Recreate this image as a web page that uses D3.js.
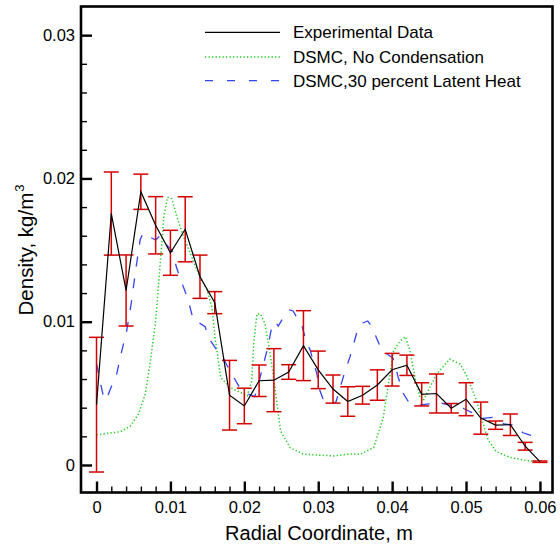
<!DOCTYPE html>
<html>
<head>
<meta charset="utf-8">
<script src="https://cdn.jsdelivr.net/npm/d3@7"></script>
<style>
  html, body { margin: 0; padding: 0; background: #fff; }
  svg { display: block; font-family: "Liberation Sans", Arial, sans-serif; }
</style>
</head>
<body>
<svg id="chart" width="560" height="545"></svg>
<script>
// ---- Data ----
const expX = [0,0.002,0.004,0.006,0.008,0.010,0.012,0.014,0.016,0.018,0.020,0.022,0.024,0.026,0.028,0.030,0.032,0.034,0.036,0.038,0.040,0.042,0.044,0.046,0.048,0.050,0.052,0.054,0.056,0.058,0.060];
const expY = [0.00421,0.01755,0.01218,0.01907,0.01673,0.01481,0.01645,0.01314,0.01133,0.00487,0.00412,0.00588,0.00592,0.00649,0.00833,0.00664,0.00530,0.00443,0.00487,0.00558,0.00665,0.00696,0.00493,0.00499,0.00396,0.00459,0.00327,0.00278,0.00281,0.00131,0.00023];
const expErr = [0.0047,0.0029,0.00248,0.00123,0.0020,0.00157,0.00227,0.00151,0.00077,0.00243,0.00124,0.0011,0.0022,0.00051,0.00244,0.00131,0.00098,0.00103,0.00062,0.00106,0.00114,0.00071,0.00081,0.00136,0.00033,0.00115,0.00112,0.00029,0.00075,0.00027,0.00005];

const noCondX = [0,0.0033,0.0046,0.0057,0.0066,0.0073,0.0080,0.00865,0.0091,0.0096,0.0102,0.0109,0.0118,0.0127,0.0138,0.0150,0.0156,0.0161,0.0168,0.0181,0.0204,0.0210,0.0213,0.0217,0.0222,0.0228,0.0235,0.0242,0.0249,0.0262,0.0280,0.0321,0.0343,0.0357,0.0375,0.0388,0.0395,0.0402,0.0411,0.0418,0.0424,0.0431,0.0438,0.0442,0.0460,0.0478,0.0492,0.0501,0.0514,0.0521,0.0530,0.0541,0.0559,0.0577,0.0595];
const noCondY = [0.0021,0.00233,0.00273,0.00357,0.00497,0.00727,0.01007,0.01427,0.01729,0.01869,0.01858,0.01729,0.0159,0.01476,0.01334,0.01217,0.0110,0.00867,0.0061,0.0054,0.00483,0.00587,0.00867,0.01054,0.01054,0.00984,0.00774,0.00517,0.00238,0.00121,0.00075,0.00063,0.00077,0.00075,0.00121,0.00331,0.00564,0.00797,0.00867,0.00895,0.00797,0.0061,0.00471,0.00448,0.00634,0.00739,0.00704,0.00622,0.00454,0.00326,0.00174,0.00093,0.00054,0.00035,0.00023];

const latentX = [0,0.00045,0.0010,0.0013,0.0020,0.0027,0.0034,0.0041,0.0047,0.0053,0.0059,0.0063,0.0069,0.0080,0.0086,0.0092,0.0102,0.0108,0.0113,0.0120,0.0124,0.0131,0.0137,0.0147,0.0152,0.0161,0.0169,0.0180,0.0193,0.0203,0.0214,0.0217,0.0225,0.0232,0.0238,0.0242,0.0246,0.0256,0.0261,0.0266,0.0273,0.0277,0.0284,0.0289,0.0298,0.0302,0.0307,0.0316,0.0324,0.0334,0.0343,0.0352,0.0356,0.0361,0.0367,0.0374,0.0379,0.0386,0.0395,0.0401,0.0404,0.0408,0.0415,0.0422,0.0438,0.0451,0.0467,0.0476,0.0486,0.0496,0.0510,0.0523,0.0537,0.0551,0.0566,0.0577,0.0593,0.0598];
const latentY = [0.0071,0.0059,0.00465,0.00454,0.00546,0.00628,0.00791,0.00942,0.0113,0.0136,0.0157,0.0162,0.0160,0.0157,0.0160,0.0155,0.0150,0.01384,0.01305,0.01209,0.01151,0.01012,0.00998,0.00965,0.00884,0.00816,0.00768,0.00663,0.00546,0.0050,0.00477,0.00523,0.00686,0.00826,0.00989,0.00998,0.0097,0.01059,0.01082,0.01075,0.01012,0.00989,0.0086,0.00803,0.0064,0.00523,0.00454,0.00419,0.0044,0.00616,0.00756,0.00919,0.00977,0.00993,0.01005,0.00954,0.00884,0.00803,0.00768,0.00747,0.00698,0.00616,0.0050,0.00442,0.00419,0.00426,0.00431,0.00419,0.00412,0.00396,0.00361,0.00326,0.00333,0.00286,0.00279,0.00225,0.00197,0.00188];

const xMajorTicks = [0,0.01,0.02,0.03,0.04,0.05,0.06];
const yMajorTicks = [0,0.01,0.02,0.03];
const legendLabels = ["Experimental Data","DSMC, No Condensation","DSMC,30 percent Latent Heat"];

// ---- Layout ----
const L = 81, R = 552.5, T = 6.5, B = 492.5;
const svg = d3.select("#chart");
const x = d3.scaleLinear().domain([-0.0021, 0.0617]).range([L, R]);
const y = d3.scaleLinear().domain([-0.00192, 0.032]).range([B, T]);

const fmt = d => d === 0 ? "0" : d3.format(".2f")(d);

// minor ticks
const xMinor = d3.range(0, 31).map(i => i * 0.002).filter(v => !xMajorTicks.some(m => Math.abs(m - v) < 1e-9));
const yMinor = d3.range(0, 16).map(i => i * 0.002).filter(v => v <= 0.0319 && !yMajorTicks.some(m => Math.abs(m - v) < 1e-9));

const gxMinor = svg.append("g").attr("transform", `translate(0,${B})`)
  .call(d3.axisBottom(x).tickValues(xMinor).tickSize(-6).tickFormat(""));
const gyMinor = svg.append("g").attr("transform", `translate(${L},0)`)
  .call(d3.axisLeft(y).tickValues(yMinor).tickSize(-6).tickFormat(""));
[gxMinor, gyMinor].forEach(g => { g.select(".domain").remove(); g.selectAll("line").attr("stroke", "#000").attr("stroke-width", 1.4); });

const gx = svg.append("g").attr("transform", `translate(0,${B})`)
  .call(d3.axisBottom(x).tickValues(xMajorTicks).tickSize(-11).tickPadding(9).tickFormat(fmt));
const gy = svg.append("g").attr("transform", `translate(${L},0)`)
  .call(d3.axisLeft(y).tickValues(yMajorTicks).tickSize(-11).tickPadding(6).tickFormat(fmt));
[gx, gy].forEach(g => {
  g.select(".domain").remove();
  g.selectAll("line").attr("stroke", "#000").attr("stroke-width", 2.4);
  g.selectAll("text").attr("font-size", 16.5).attr("fill", "#000")
    .attr("font-family", "'Liberation Sans', Arial, sans-serif");
});

// frame
svg.append("rect").attr("x", L).attr("y", T).attr("width", R - L).attr("height", B - T)
  .attr("fill", "none").attr("stroke", "#000").attr("stroke-width", 2.6);

// ---- Series ----
const line = d3.line().x(d => x(d[0])).y(d => y(d[1]));

svg.append("path").datum(noCondX.map((v, i) => [v, noCondY[i]]))
  .attr("d", line).attr("fill", "none").attr("stroke", "#22cc22")
  .attr("stroke-width", 1.5).attr("stroke-dasharray", "1.3,2.2");

svg.append("path").datum(latentX.map((v, i) => [v, latentY[i]]))
  .attr("d", line).attr("fill", "none").attr("stroke", "#3344ee")
  .attr("stroke-width", 1.3).attr("stroke-dasharray", "10,12");

// error bars
const eb = svg.append("g").attr("stroke", "#d40000").attr("stroke-width", 1.5).attr("fill", "none");
expX.forEach((xv, i) => {
  const cx = x(xv), y1 = y(expY[i] - expErr[i]), y2 = y(expY[i] + expErr[i]);
  eb.append("line").attr("x1", cx).attr("x2", cx).attr("y1", y1).attr("y2", y2);
  eb.append("line").attr("x1", cx - 7.5).attr("x2", cx + 7.5).attr("y1", y1).attr("y2", y1);
  eb.append("line").attr("x1", cx - 7.5).attr("x2", cx + 7.5).attr("y1", y2).attr("y2", y2);
});

svg.append("path").datum(expX.map((v, i) => [v, expY[i]]))
  .attr("d", line).attr("fill", "none").attr("stroke", "#000").attr("stroke-width", 1.2);

// ---- Legend ----
const legStyles = [
  {stroke: "#000", dash: null, w: 1.2},
  {stroke: "#22cc22", dash: "1.3,2.2", w: 1.5},
  {stroke: "#3344ee", dash: "8,14", w: 1.3}
];
const legLineY = [32.3, 57, 80.7];
const legTextY = [38.3, 63.2, 87.3];
legendLabels.forEach((lab, i) => {
  const s = legStyles[i];
  const ln = svg.append("line").attr("x1", 205).attr("x2", 280)
    .attr("y1", legLineY[i]).attr("y2", legLineY[i])
    .attr("stroke", s.stroke).attr("stroke-width", s.w);
  if (s.dash) ln.attr("stroke-dasharray", s.dash);
  svg.append("text").attr("x", 293).attr("y", legTextY[i])
    .attr("font-size", 17).attr("fill", "#000").text(lab);
});

// ---- Axis titles ----
svg.append("text").attr("x", 319).attr("y", 540).attr("text-anchor", "middle")
  .attr("font-size", 20).attr("fill", "#000").text("Radial Coordinate, m");

const yt = svg.append("text").attr("transform", "translate(33,250) rotate(-90)")
  .attr("text-anchor", "middle").attr("font-size", 20.5).attr("fill", "#000");
yt.append("tspan").text("Density, kg/m");
yt.append("tspan").attr("font-size", 13).attr("dy", -9).attr("dx", 1).text("3");
</script>
</body>
</html>
